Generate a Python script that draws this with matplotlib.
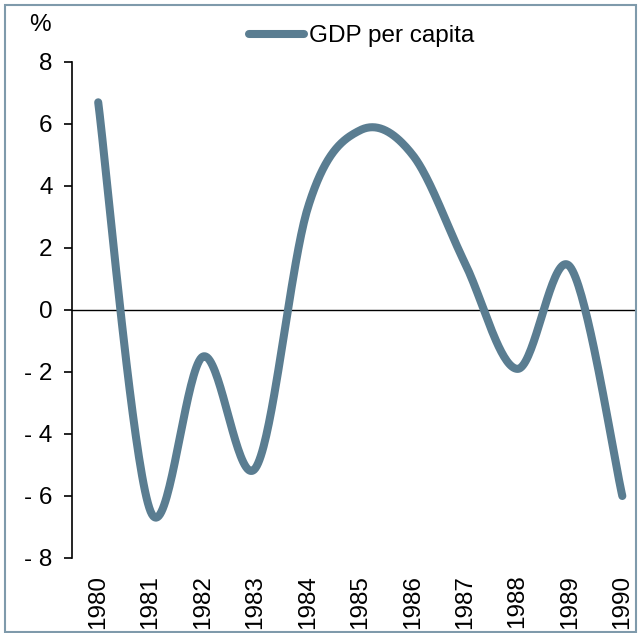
import matplotlib

matplotlib.use("Agg")

import matplotlib.pyplot as plt
import numpy as np
from matplotlib.patches import Rectangle

years = [1980, 1981, 1982, 1983, 1984, 1985, 1986, 1987, 1988, 1989, 1990]
gdp_per_capita = [6.7, -6.5, -1.5, -5.1, 3.3, 5.8, 5.0, 1.5, -1.9, 1.4, -6.0]
y_ticks = [-8, -6, -4, -2, 0, 2, 4, 6, 8]
y_tick_labels = ["- 8", "- 6", "- 4", "- 2", "0", "2", "4", "6", "8"]

LINE_COLOR = "#5a7d91"


def smooth(xs, ys, steps=40):
    # Excel-like smoothed line: cubic Bezier with Catmull-Rom control points
    xs = np.asarray(xs, dtype=float)
    ys = np.asarray(ys, dtype=float)
    px = np.concatenate([[xs[0]], xs, [xs[-1]]])
    py = np.concatenate([[ys[0]], ys, [ys[-1]]])
    t = np.linspace(0, 1, steps)
    out_x, out_y = [], []
    for i in range(1, len(px) - 2):
        p0x, p1x, p2x, p3x = px[i - 1], px[i], px[i + 1], px[i + 2]
        p0y, p1y, p2y, p3y = py[i - 1], py[i], py[i + 1], py[i + 2]
        c1x, c1y = p1x + (p2x - p0x) / 6, p1y + (p2y - p0y) / 6
        c2x, c2y = p2x - (p3x - p1x) / 6, p2y - (p3y - p1y) / 6
        bx = (1 - t) ** 3 * p1x + 3 * (1 - t) ** 2 * t * c1x + 3 * (1 - t) * t ** 2 * c2x + t ** 3 * p2x
        by = (1 - t) ** 3 * p1y + 3 * (1 - t) ** 2 * t * c1y + 3 * (1 - t) * t ** 2 * c2y + t ** 3 * p2y
        out_x.extend(bx)
        out_y.extend(by)
    return np.array(out_x), np.array(out_y)


plt.rcParams["font.family"] = ["Liberation Sans", "DejaVu Sans"]

W, H = 638, 633
FS = 17.5
fig = plt.figure(figsize=(W / 100, H / 100), dpi=100)
ax = fig.add_axes([72 / W, (H - 558) / H, 565 / W, 496 / H])

sx, sy = smooth(years, gdp_per_capita)
ax.plot(sx, sy, color=LINE_COLOR, lw=5.8, solid_capstyle="round", label="GDP per capita", zorder=3)
ax.axhline(0, color="black", lw=1, zorder=2)

ax.set_xlim(1979.5, 1990.28)
ax.set_ylim(-8, 8)
ax.set_yticks(y_ticks)
ax.set_yticklabels(y_tick_labels)
ax.set_xticks(years)
ax.set_xticklabels([str(y) for y in years], rotation=90, va="top", ha="center")

for side in ["top", "right", "bottom"]:
    ax.spines[side].set_visible(False)
ax.spines["left"].set_linewidth(1.2)
ax.tick_params(axis="y", direction="out", length=6, width=1.2, pad=8, labelsize=FS)
ax.tick_params(axis="x", length=0, pad=12, labelsize=FS)

fig.text(40 / W, 1 - 25 / H, "%", ha="center", va="center", fontsize=FS)
ax.legend(
    loc="center",
    bbox_to_anchor=(0.567, 1 - 36 / H),
    bbox_transform=fig.transFigure,
    frameon=False,
    fontsize=FS,
    handlelength=2.26,
    handletextpad=0.2,
)

fig.patches.append(
    Rectangle((5 / W, 1 / H), 631 / W, 627 / H, transform=fig.transFigure,
              fill=False, edgecolor="#7f9aab", lw=1.5)
)

fig.savefig("out.png", dpi=100)
